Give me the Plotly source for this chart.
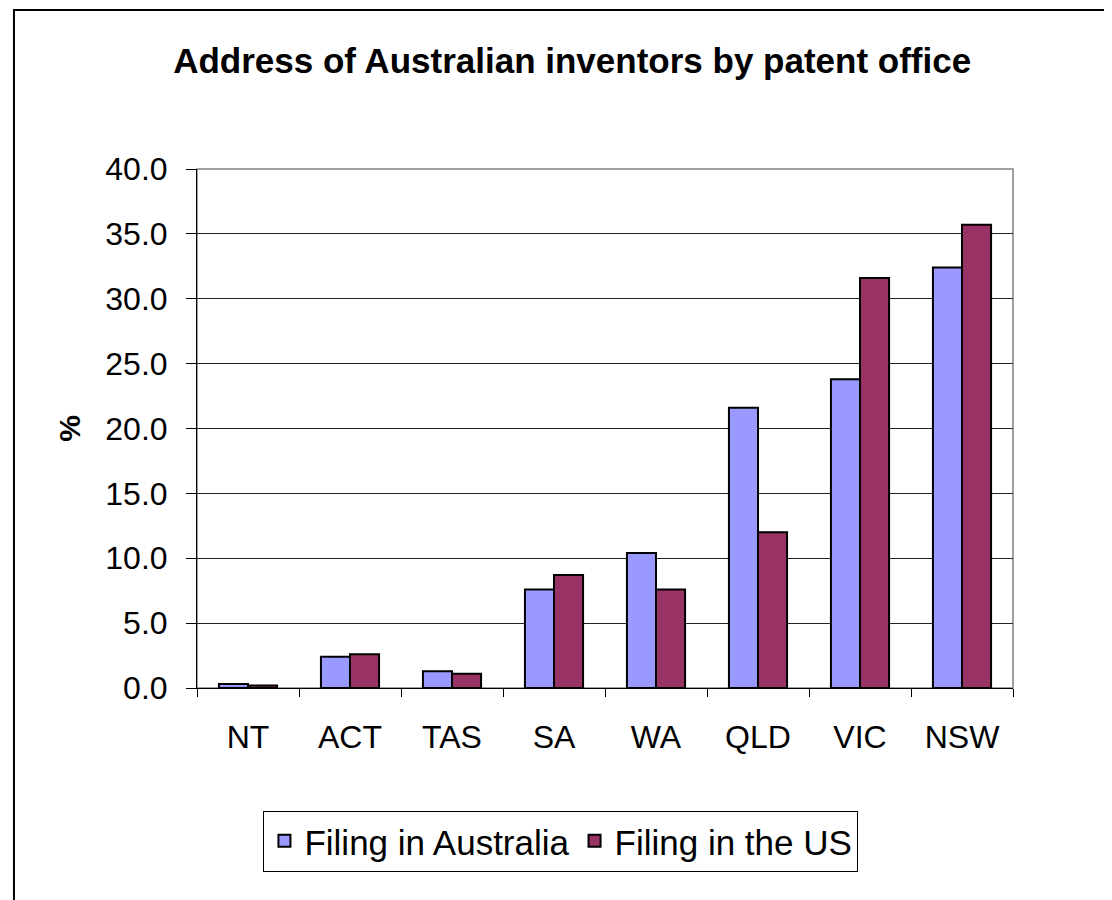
import plotly.graph_objects as go

categories = ["NT", "ACT", "TAS", "SA", "WA", "QLD", "VIC", "NSW"]
filing_australia = [0.3, 2.4, 1.3, 7.6, 10.4, 21.6, 23.8, 32.4]
filing_us = [0.2, 2.6, 1.1, 8.7, 7.6, 12.0, 31.6, 35.7]
y_ticks = [0, 5, 10, 15, 20, 25, 30, 35, 40]

FONT = "Liberation Sans, Arial, sans-serif"

fig = go.Figure()
fig.add_trace(go.Bar(
    x=categories, y=filing_australia, name="Filing in Australia",
    marker=dict(color="#9999FF", line=dict(color="#000000", width=2)),
))
fig.add_trace(go.Bar(
    x=categories, y=filing_us, name="Filing in the US",
    marker=dict(color="#993366", line=dict(color="#000000", width=2)),
))

fig.update_layout(
    width=1104, height=892,
    paper_bgcolor="white", plot_bgcolor="white",
    margin=dict(l=189, r=99, t=161, b=212, autoexpand=False),
    barmode="group", bargap=0.43, bargroupgap=0,
    font=dict(family=FONT, color="black", size=32),
    title=dict(text="<b>Address of Australian inventors by patent office</b>",
               x=0.511, xanchor="center", y=0.9406, yanchor="middle",
               font=dict(family=FONT, size=35, color="black")),
    showlegend=True,
    legend=dict(orientation="h", x=0.446, xanchor="center", y=-0.295, yanchor="middle",
                bordercolor="black", borderwidth=1, bgcolor="white",
                font=dict(family=FONT, size=35, color="black"),
                traceorder="normal", itemwidth=30),
)

fig.update_xaxes(
    type="category", showline=True, linecolor="black", linewidth=1,
    ticks="outside", tickson="boundaries", ticklen=8, tickcolor="black",
    tickfont=dict(family=FONT, size=32), showgrid=False, ticklabelstandoff=21,
)
fig.update_yaxes(
    range=[0, 40], tickvals=y_ticks, tickformat=".1f",
    showline=True, linecolor="black", linewidth=1,
    ticks="outside", ticklen=10, tickcolor="black",
    showgrid=True, gridcolor="#222222", gridwidth=1,
    tickfont=dict(family=FONT, size=32), ticklabelstandoff=12,
    title=dict(text="<b>%</b>", font=dict(family=FONT, size=30), standoff=15),
    zeroline=False,
)

# plot-area frame (grey top/right) and outer chart border
fig.add_shape(type="rect", xref="x domain", yref="y domain", x0=0, x1=1, y0=0, y1=1,
              line=dict(color="#808080", width=1.5), layer="below")
fig.add_shape(type="rect", xref="paper", yref="paper", x0=-0.2243, x1=1.3, y0=-0.6, y1=1.3064,
              line=dict(color="black", width=2), layer="below")

fig.write_html("out.html")
